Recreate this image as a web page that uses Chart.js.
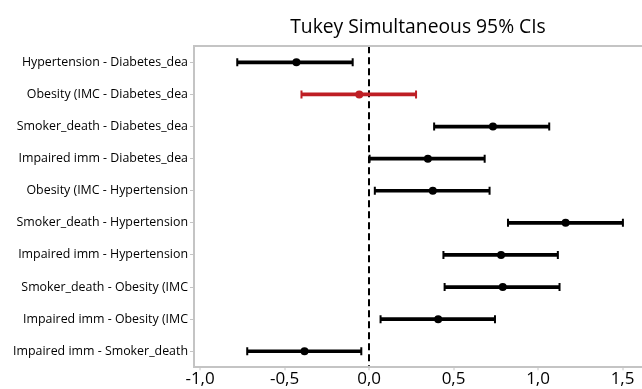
<!DOCTYPE html>
<html>
<head>
<meta charset="utf-8">
<script src="https://cdn.jsdelivr.net/npm/chart.js@4"></script>
<style>
  html, body { margin: 0; padding: 0; background: #fff; overflow: hidden; }
  #wrap { width: 642px; height: 389px; }
</style>
</head>
<body>
<div id="wrap"><canvas id="tukey"></canvas></div>
<script>
// comparisons, top to bottom
const labels = [
  'Hypertension - Diabetes_dea',
  'Obesity (IMC - Diabetes_dea',
  'Smoker_death - Diabetes_dea',
  'Impaired imm - Diabetes_dea',
  'Obesity (IMC - Hypertension',
  'Smoker_death - Hypertension',
  'Impaired imm - Hypertension',
  'Smoker_death - Obesity (IMC',
  'Impaired imm - Obesity (IMC',
  'Impaired imm - Smoker_death'
];
const lower  = [-0.78, -0.40, 0.385, 0.003, 0.034, 0.822, 0.44, 0.447, 0.068, -0.721];
const center = [-0.43, -0.058, 0.733, 0.348, 0.377, 1.163, 0.781, 0.791, 0.409, -0.382];
const upper  = [-0.097, 0.278, 1.066, 0.684, 0.713, 1.502, 1.117, 1.127, 0.745, -0.046];
const tickValues = [-1.0, -0.5, 0.0, 0.5, 1.0, 1.5];

// the one interval that includes zero is drawn red
const colors = labels.map((l, i) => (lower[i] < 0 && upper[i] > 0) ? '#be1e24' : '#000');

const xMin = -1.036, xMax = 1.615;
const axisGray = '#c4c4c4';

// plot runs off the right edge, so no side padding for the x scales
const noSidePadding = (scale) => { scale.paddingRight = 0; scale.paddingLeft = 0; };

const ctx = document.getElementById('tukey').getContext('2d');

new Chart(ctx, {
  type: 'bar',
  data: {
    labels: labels,
    datasets: [
      {
        // interval lines
        type: 'bar',
        data: labels.map((l, i) => [lower[i], upper[i]]),
        backgroundColor: colors,
        borderWidth: 0,
        barThickness: 3,
        order: 3
      },
      {
        // lower caps
        type: 'line',
        data: labels.map((l, i) => ({ x: lower[i], y: l })),
        showLine: false,
        pointStyle: 'line',
        rotation: 90,
        pointRadius: 4,
        pointBorderWidth: 2,
        pointBorderColor: colors,
        pointBackgroundColor: colors,
        order: 2
      },
      {
        // upper caps
        type: 'line',
        data: labels.map((l, i) => ({ x: upper[i], y: l })),
        showLine: false,
        pointStyle: 'line',
        rotation: 90,
        pointRadius: 4,
        pointBorderWidth: 2,
        pointBorderColor: colors,
        pointBackgroundColor: colors,
        order: 2
      },
      {
        // estimates
        type: 'line',
        data: labels.map((l, i) => ({ x: center[i], y: l })),
        showLine: false,
        pointStyle: 'circle',
        pointRadius: 4,
        pointBorderWidth: 0,
        pointBackgroundColor: colors,
        order: 1
      }
    ]
  },
  options: {
    indexAxis: 'y',
    responsive: true,
    maintainAspectRatio: false,
    animation: false,
    layout: { padding: 0, autoPadding: false },
    plugins: {
      legend: { display: false },
      tooltip: { enabled: false },
      title: {
        display: true,
        text: 'Tukey Simultaneous 95% CIs',
        fullSize: false,
        color: '#000',
        font: { family: 'Open Sans', size: 19.3, weight: 'normal', lineHeight: 1.0 },
        padding: { top: 18, bottom: 1 }
      }
    },
    scales: {
      x: {
        type: 'linear',
        position: 'bottom',
        min: xMin,
        max: xMax,
        afterFit: noSidePadding,
        afterBuildTicks: (scale) => {
          scale.ticks = tickValues.map(v => ({ value: v }));
        },
        ticks: {
          color: '#000',
          font: { family: 'Open Sans', size: 17, lineHeight: 1.1 },
          padding: 0,
          maxRotation: 0,
          callback: (v) => v.toFixed(1).replace('.', ',')
        },
        grid: {
          color: (c) => (c.tick && c.tick.value === 0) ? '#000' : 'rgba(0,0,0,0)',
          lineWidth: 2,
          tickColor: axisGray,
          tickLength: 3,
          tickWidth: 1
        },
        border: { color: axisGray, width: 2, dash: [7, 4] }
      },
      xTop: {
        type: 'linear',
        position: 'top',
        min: xMin,
        max: xMax,
        afterFit: noSidePadding,
        afterBuildTicks: (scale) => {
          scale.ticks = tickValues.map(v => ({ value: v }));
        },
        ticks: { display: false },
        grid: { display: false },
        border: { display: true, color: axisGray, width: 2 }
      },
      y: {
        type: 'category',
        offset: true,
        afterFit: (scale) => {
          scale.width = 194;
          scale.paddingTop = 0;
          scale.paddingBottom = 0;
        },
        ticks: {
          color: '#000',
          font: { family: 'Open Sans', size: 12.4 },
          padding: 2,
          autoSkip: false
        },
        grid: {
          offset: false,
          drawOnChartArea: false,
          tickColor: axisGray,
          tickLength: 4,
          tickWidth: 1
        },
        border: { color: axisGray, width: 2 }
      }
    }
  }
});
</script>
</body>
</html>
